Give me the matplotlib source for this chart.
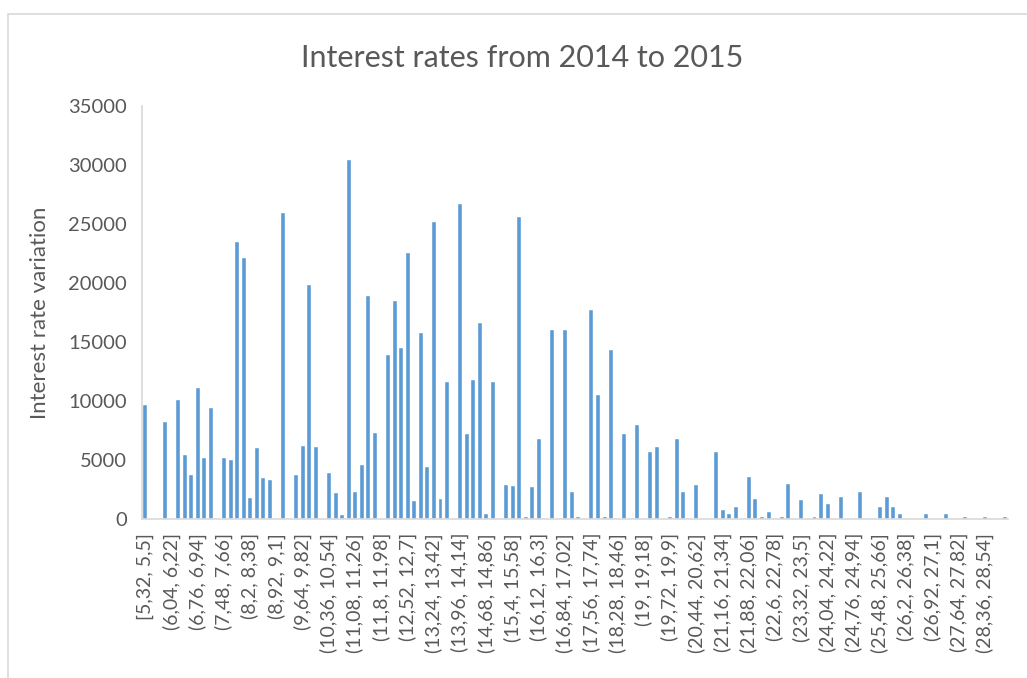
"""Histogram of interest rate variation, 2014-2015, in 0.18-wide bins."""

import matplotlib

matplotlib.use("Agg")
import matplotlib.pyplot as plt
import numpy as np
from matplotlib.patches import Rectangle

plt.rcParams["font.family"] = ["Lato", "DejaVu Sans"]

BIN_START = 5.32
BIN_WIDTH = 0.18

# count per bin, one entry for each of the 132 bins
counts = [
    9700, 0, 0, 8200, 0, 10100, 5400, 3700, 11100, 5200,
    9400, 0, 5200, 5000, 23500, 22100, 1800, 6000, 3500, 3300,
    0, 25900, 0, 3700, 6200, 19800, 6100, 0, 3900, 2200,
    350, 30400, 2300, 4600, 18900, 7300, 0, 13900, 18500, 14500,
    22500, 1500, 15800, 4400, 25200, 1700, 11600, 0, 26700, 7200,
    11800, 16600, 450, 11600, 0, 2900, 2800, 25600, 150, 2700,
    6800, 0, 16000, 0, 16000, 2300, 150, 0, 17700, 10500,
    150, 14300, 0, 7200, 0, 8000, 0, 5700, 6100, 0,
    150, 6800, 2300, 0, 2900, 0, 0, 5700, 800, 400,
    1000, 0, 3600, 1700, 150, 600, 0, 150, 2950, 0,
    1600, 0, 150, 2100, 1300, 0, 1900, 0, 0, 2300,
    0, 0, 1000, 1900, 1000, 400, 0, 0, 0, 400,
    0, 0, 400, 0, 0, 150, 0, 0, 150, 0,
    0, 150,
]

y_ticks = [0, 5000, 10000, 15000, 20000, 25000, 30000, 35000]
label_step = 4

BAR_COLOR = "#5B9BD5"
TEXT_COLOR = "#595959"
LINE_COLOR = "#D9D9D9"


def fmt(value: float) -> str:
    """Excel-style number with a decimal comma and no trailing zeros."""
    text = f"{value:.2f}".rstrip("0").rstrip(".")
    return text.replace(".", ",")


def bin_labels(n: int) -> list[str]:
    labels = []
    for i in range(n):
        lo = BIN_START + i * BIN_WIDTH
        hi = lo + BIN_WIDTH
        left = "[" if i == 0 else "("
        labels.append(f"{left}{fmt(lo)}, {fmt(hi)}]")
    return labels


def render() -> None:
    fig = plt.figure(figsize=(10.27, 6.78), dpi=100)
    ax = fig.add_axes([0.1383, 0.2345, 0.8432, 0.6092])

    x = np.arange(len(counts))
    ax.bar(x, counts, width=0.6, color=BAR_COLOR, edgecolor="white",
           linewidth=0.3)
    ax.set_xlim(-0.5, len(counts) - 0.5)
    ax.set_ylim(0, 35000)

    labels = bin_labels(len(counts))
    ticks = x[::label_step]
    ax.set_xticks(ticks)
    ax.set_xticklabels([labels[i] for i in ticks], rotation=90,
                       ha="center", va="top")
    ax.set_yticks(y_ticks)
    ax.tick_params(axis="x", length=0, pad=10, labelsize=14,
                   labelcolor=TEXT_COLOR)
    ax.tick_params(axis="y", length=0, pad=11, labelsize=14.5,
                   labelcolor=TEXT_COLOR)

    for side in ("top", "right"):
        ax.spines[side].set_visible(False)
    for side in ("left", "bottom"):
        ax.spines[side].set_color(LINE_COLOR)
        ax.spines[side].set_linewidth(1.2)

    ax.set_ylabel("Interest rate variation", fontsize=16,
                  color=TEXT_COLOR, labelpad=13)
    fig.text(0.508, 0.915, "Interest rates from 2014 to 2015",
             fontsize=22, color=TEXT_COLOR, ha="center", va="center")

    # chart area frame, clipped by the figure edge at right and bottom
    fig.add_artist(Rectangle((8 / 1027, -0.1), 1.2, 0.1 + 1 - 14 / 678,
                             transform=fig.transFigure, fill=False,
                             edgecolor=LINE_COLOR, linewidth=1.2))

    fig.savefig("out.png", dpi=100)
    plt.close(fig)


def main() -> None:
    render()


if __name__ == "__main__":
    main()
